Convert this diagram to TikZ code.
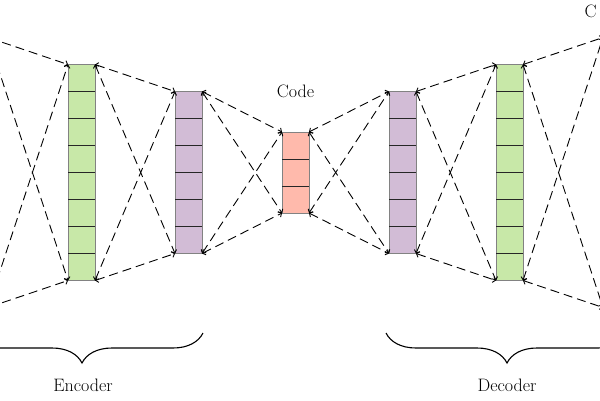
\documentclass[tikz,border=0pt]{standalone}
\usetikzlibrary{decorations.pathreplacing,arrows.meta}
\definecolor{lgreen}{RGB}{200,232,168}
\definecolor{lpurple}{RGB}{210,188,214}
\definecolor{lred}{RGB}{255,186,172}
\definecolor{bordergray}{RGB}{130,130,130}
\tikzset{
 layer/.style={draw=bordergray, line width=0.8pt, minimum width=27pt, inner sep=0pt, outer sep=0pt, anchor=north west},
 cell/.style={draw=black!85, line width=0.8pt},
 conn/.style={dash pattern=on 9pt off 5pt, line width=0.9pt, {Straight Barb[length=2.5pt,width=6pt]}-{Straight Barb[length=2.5pt,width=6pt]}},
 brc/.style={decorate, decoration={brace,mirror,amplitude=30pt}, line width=1.1pt},
 lbl/.style={font=\fontsize{18}{21}\selectfont, text=black}
}
\newcommand\layercells[2]{\foreach \k in {1,...,#2} {\draw[cell] ([yshift=-\k*27pt]#1.north west) -- ([yshift=-\k*27pt]#1.north east);}}
\begin{document}
\begin{tikzpicture}[x=1pt,y=-1pt]
\useasboundingbox (0,0) rectangle (600,400);
\clip (0,0) rectangle (600,400);
% off-canvas input / output layer corners
\coordinate (inNE) at (-12,37.5);
\coordinate (inSE) at (-12,307.5);
\coordinate (outNW) at (603,37.5);
\coordinate (outSW) at (603,307.5);
% layers
\node[layer, fill=lgreen, minimum height=216pt] (g1) at (68,64.5) {};
\node[layer, fill=lpurple, minimum height=162pt] (p1) at (175,91.5) {};
\node[layer, fill=lred, minimum height=81pt] (c) at (282,132) {};
\node[layer, fill=lpurple, minimum height=162pt] (p2) at (389,91.5) {};
\node[layer, fill=lgreen, minimum height=216pt] (g2) at (496,64.5) {};
\layercells{g1}{7}
\layercells{p1}{5}
\layercells{c}{2}
\layercells{p2}{5}
\layercells{g2}{7}
% connectors
\draw[conn] (inNE) -- (g1.north west);
\draw[conn] (inSE) -- (g1.south west);
\draw[conn] (inNE) -- (g1.south west);
\draw[conn] (inSE) -- (g1.north west);
\foreach \a/\b in {g1/p1, p1/c, c/p2, p2/g2} {
  \draw[conn] (\a.north east) -- (\b.north west);
  \draw[conn] (\a.south east) -- (\b.south west);
  \draw[conn] (\a.north east) -- (\b.south west);
  \draw[conn] (\a.south east) -- (\b.north west);
}
\draw[conn] (g2.north east) -- (outNW);
\draw[conn] (g2.south east) -- (outSW);
\draw[conn] (g2.north east) -- (outSW);
\draw[conn] (g2.south east) -- (outNW);
% labels
\node[lbl] (codelbl) at (295.5,91) {Code};
\node[lbl, anchor=west] (outlbl) at (581,11) {C};
% braces
\coordinate (encL) at (-39,333);
\coordinate (encR) at (203,333);
\coordinate (decL) at (386,333);
\coordinate (decR) at (628,333);
\draw[brc] (encL) -- (encR);
\draw[brc] (decL) -- (decR);
\node[lbl] (enclbl) at (83,385) {Encoder};
\node[lbl] (declbl) at (507,385) {Decoder};
\end{tikzpicture}
\end{document}
